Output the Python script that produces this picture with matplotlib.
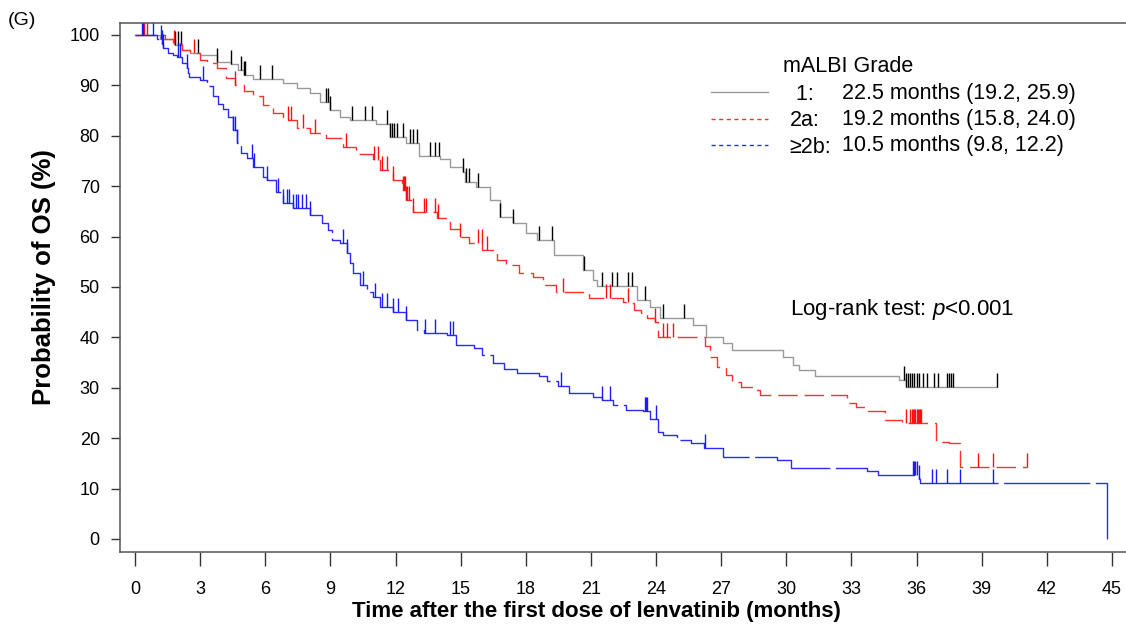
import numpy as np
import matplotlib
matplotlib.use("Agg")
import matplotlib.pyplot as plt
from matplotlib.path import Path
from matplotlib.lines import Line2D

plt.rcParams['font.family'] = ['Liberation Sans', 'DejaVu Sans']
plt.rcParams['mathtext.fontset'] = 'custom'
plt.rcParams['mathtext.rm'] = 'Liberation Sans'
plt.rcParams['mathtext.it'] = 'Liberation Sans:italic'

# ---- data (months, survival %) ----
t1 = [0, 1.15, 1.84, 2.15, 2.53, 3.0, 3.76, 4.4, 4.76, 5.0, 5.45, 6.8, 7.45, 8.06, 8.5, 8.98,
      9.45, 9.9, 11.1, 11.75, 12.5, 13.1, 14.05, 14.5, 15.1, 15.2, 15.7, 16.35, 16.8, 17.4, 18.0,
      18.5, 19.3, 20.65, 21.1, 21.3, 23.1, 23.7, 24.2, 25.7, 26.3, 27.1, 27.5, 29.85, 30.3,
      30.6, 31.3, 35.2, 35.5]
s1 = [100, 99.3, 98.0, 97.0, 96.4, 96.0, 94.7, 94.2, 93.1, 92.1, 91.2, 90.4, 89.4, 88.4, 86.8, 85.1,
      83.8, 83.1, 82.4, 79.8, 78.5, 75.9, 75.3, 73.9, 72.9, 70.9, 69.9, 67.3, 63.9, 62.6, 60.7,
      59.3, 56.3, 53.4, 51.4, 50.1, 47.4, 46.1, 43.8, 42.5, 40.1, 38.8, 37.5, 36.2, 34.5,
      33.5, 32.3, 31.5, 30.2]
c1 = [1.85, 2.0, 2.1, 2.9, 3.8, 4.4, 4.9, 5.0, 5.07, 5.76, 6.3, 8.8, 8.9, 9.0, 10.0, 10.6, 10.9,
      11.6, 11.75, 11.85, 11.95, 12.05, 12.36, 12.67, 12.8, 12.97, 13.6, 13.8, 14.0, 15.1, 15.25,
      15.4, 15.8, 16.8, 17.4, 18.6, 19.2, 20.7, 21.5, 21.95, 22.2, 22.7, 22.9, 23.5, 24.3, 25.3,
      35.4, 35.5, 35.6, 35.7, 35.8, 35.9, 36.0, 36.1, 36.3, 36.5, 36.8, 37.0, 37.4, 37.5, 37.6,
      37.7, 39.7]

t2 = [0, 1.38, 1.76, 2.15, 2.53, 3.0, 3.3, 3.76, 4.2, 4.6, 5.0, 5.45, 5.9, 6.37, 6.8, 7.45, 8.06,
      8.8, 9.6, 10.2, 10.98, 11.3, 11.9, 12.3, 12.5, 12.8, 13.9, 14.35, 14.5, 14.97, 15.4, 16.0,
      16.66, 17.1, 17.7, 18.35, 18.8, 19.4, 20.9, 22.5, 22.8, 23.0, 23.3, 23.6, 23.95, 24.1, 26.25,
      26.5, 26.8, 27.2, 27.5, 27.9, 28.6, 28.8, 32.8, 33.2, 33.7, 34.55, 35.35, 36.9, 37.5, 38.0]
s2 = [100, 99.3, 98.3, 97.0, 96.4, 95.0, 94.4, 93.4, 91.4, 90.1, 88.8, 87.8, 86.1, 84.5, 83.1, 81.5,
      80.6, 79.5, 77.8, 76.3, 75.2, 73.2, 71.2, 69.2, 67.3, 64.9, 63.6, 62.9, 61.6, 60.0, 58.7, 57.3,
      55.4, 54.4, 52.7, 52.0, 50.4, 49.1, 47.8, 47.1, 46.8, 45.4, 44.8, 43.8, 43.1, 40.1, 38.2,
      36.2, 34.2, 32.5, 31.2, 30.2, 29.6, 28.6, 26.9, 26.2, 25.4, 23.6, 22.96, 19.3, 19.0, 14.2]
c2 = [0.41, 0.54, 1.8, 2.7, 4.6, 7.06, 7.2, 7.75, 8.3, 9.7, 11.0, 11.2, 11.4, 11.6, 11.9, 12.35,
      12.4, 12.45, 12.5, 12.55, 12.6, 12.8, 13.3, 13.4, 13.8, 13.96, 14.97, 15.8, 15.97, 16.2,
      19.7, 21.7, 21.9, 22.7, 23.95, 24.3, 24.5, 24.8, 35.5, 35.7, 35.8, 35.85, 35.9, 35.95,
      36.0, 36.05, 36.1, 36.15, 36.2, 38.85, 39.5, 41.1]

t3 = [0, 1.0, 1.23, 1.3, 1.53, 1.76, 1.92, 2.15, 2.38, 2.46, 2.5, 3.0, 3.3, 3.6, 3.84, 4.07, 4.3,
      4.5, 4.7, 4.9, 5.15, 5.45, 5.9, 6.07, 6.5, 6.8, 7.3, 8.06, 8.6, 8.9, 9.06, 9.44, 9.75, 9.9,
      10.06, 10.36, 10.67, 10.98, 11.3, 11.9, 12.5, 12.97, 13.3, 14.35, 14.8, 15.6, 16.0, 16.5,
      17.0, 17.6, 18.6, 19.0, 19.5, 20.0, 21.1, 21.5, 22.0, 22.6, 23.4, 23.7, 24.1, 24.3, 24.95,
      25.6, 26.2, 27.1, 29.55, 30.2, 33.7, 34.2, 36.1, 36.15, 44.75]
s3 = [100, 99.3, 98.3, 97.4, 96.4, 96.0, 95.7, 94.4, 93.4, 92.4, 91.7, 91.1, 89.9, 87.8, 86.4, 85.4,
      83.8, 81.2, 78.5, 76.5, 75.5, 73.9, 71.9, 71.2, 68.9, 66.6, 65.6, 64.3, 62.6, 61.3, 59.3,
      58.7, 56.7, 54.7, 52.7, 50.4, 49.1, 48.1, 46.1, 45.1, 43.5, 41.5, 40.8, 40.5, 38.5, 37.9,
      36.5, 35.0, 33.8, 32.9, 32.3, 31.3, 30.3, 29.0, 28.2, 27.6, 26.6, 25.6, 25.3, 23.9, 21.3,
      20.6, 19.6, 19.0, 18.0, 16.3, 15.7, 14.0, 13.4, 12.7, 12.0, 11.2, 0]
c3 = [0.31, 0.38, 0.82, 1.2, 1.25, 1.3, 2.0, 2.07, 2.4, 3.15, 4.5, 4.6, 4.7, 5.4, 5.5, 6.07, 6.6,
      6.8, 6.99, 7.1, 7.3, 7.4, 7.5, 7.7, 7.9, 8.06, 9.6, 9.75, 10.5, 11.05, 11.4, 11.6, 11.9,
      12.1, 12.5, 13.36, 13.8, 14.5, 14.66, 19.6, 21.5, 21.9, 23.5, 23.55, 23.6, 24.0, 26.25,
      35.85, 35.9, 35.95, 36.0, 36.1, 36.7, 36.9, 37.4, 38.0, 39.5]

grades = [" 1:", "2a:", "\u22652b:"]
medians = ["22.5 months (19.2, 25.9)",
           "19.2 months (15.8, 24.0)",
           "10.5 months (9.8, 12.2)"]

fig = plt.figure(figsize=(11.26, 6.26), dpi=100)
ax = fig.add_axes([120 / 1126, 74 / 626, 1010 / 1126, 529 / 626])

tick_mark = Path([(0, 0), (0, 1)])

groups = [
    (t1, s1, c1, '#9a9a9a', 'black', '-'),
    (t2, s2, c2, '#ff3030', '#ff1010', (0, (14, 5))),
    (t3, s3, c3, '#2a2aff', '#1a1aff', (42, (62, 4))),
]
for t, s, c, lc, cc, ls in groups:
    t = np.array(t, float)
    s = np.array(s, float)
    tend = max(t[-1], max(c))
    tt = np.append(t, tend) if tend > t[-1] else t
    ss = np.append(s, s[-1]) if tend > t[-1] else s
    ax.step(tt, ss, where='post', color=lc, lw=1.0, ls=ls)
    idx = np.searchsorted(t, c, side='right') - 1
    ax.plot(c, s[idx], ls='none', marker=tick_mark, ms=20, mew=1.0, color=cc)

ax.set_xlim(-0.69, 45.83)
ax.set_ylim(-2.58, 102.38)
ax.set_xticks(range(0, 46, 3))
ax.set_yticks(range(0, 101, 10))
for sp in ax.spines.values():
    sp.set_color('#555555')
    sp.set_linewidth(1.1)
ax.tick_params(axis='x', length=10, width=1, color='#333333', pad=11, labelsize=13)
ax.tick_params(axis='y', length=6.5, width=1, color='#333333', pad=8, labelsize=13)

ax.set_xlabel('Time after the first dose of lenvatinib (months)', fontsize=16,
              fontweight='bold', va='center')
ax.xaxis.set_label_coords(0.472, -0.113)
ax.set_ylabel('Probability of OS (%)', fontsize=18.5, fontweight='bold', va='center')
ax.yaxis.set_label_coords(-0.075, 0.52)

handles = [Line2D([], [], color='#9a9a9a', lw=1.0),
           Line2D([], [], color='#ff3030', lw=1.0, dashes=(3, 2.5)),
           Line2D([], [], color='#2a2aff', lw=1.0, dashes=(3, 2.5))]
ax.legend(handles, grades, loc='upper left', bbox_to_anchor=(711 / 1126, 1 - 84 / 626),
          bbox_transform=fig.transFigure, frameon=False, fontsize=15.5, borderpad=0,
          borderaxespad=0, handlelength=2.65, handletextpad=1.0, labelspacing=0.25)
for i, m in enumerate(medians):
    fig.text(842 / 1126, 1 - (93 + 26 * i) / 626, m, fontsize=15.5, va='center', ha='left')
fig.text(783 / 1126, 1 - 67 / 626, 'mALBI Grade', fontsize=15.5, va='center', ha='left')
fig.text(790 / 1126, 1 - 310 / 626, 'Log-rank test: $\\mathit{p}$<0.001', fontsize=16,
         va='center', ha='left')
fig.text(8 / 1126, 1 - 12 / 626, '(G)', fontsize=14, va='top', ha='left')

fig.savefig('out.png', dpi=100)
